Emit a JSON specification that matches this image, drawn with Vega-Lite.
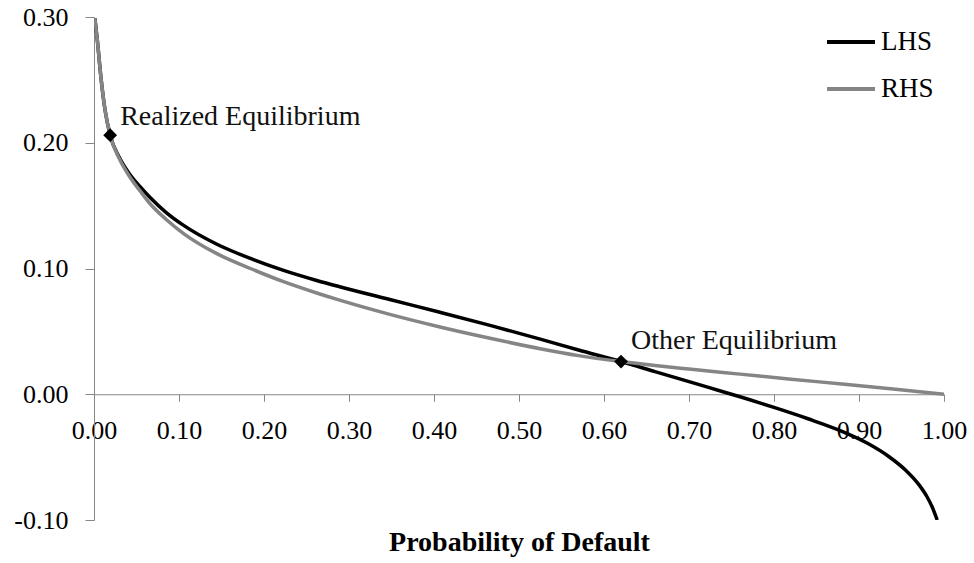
{
  "$schema": "https://vega.github.io/schema/vega-lite/v6.json",
  "width": 850,
  "height": 503,
  "autosize": {"type": "none"},
  "padding": {"left": 94, "top": 17, "right": 30, "bottom": 43},
  "background": "white",
  "config": {
    "view": {"stroke": null},
    "font": "Liberation Serif",
    "axis": {"labelFont": "Liberation Serif", "titleFont": "Liberation Serif", "grid": false},
    "legend": {"labelFont": "Liberation Serif"},
    "text": {"font": "Liberation Serif"}
  },
  "datasets": {
    "curves": [
      {"series": "LHS", "p": 0.001, "value": 0.299},
      {"series": "LHS", "p": 0.004, "value": 0.281},
      {"series": "LHS", "p": 0.008, "value": 0.253},
      {"series": "LHS", "p": 0.013, "value": 0.226},
      {"series": "LHS", "p": 0.019, "value": 0.206},
      {"series": "LHS", "p": 0.03, "value": 0.188},
      {"series": "LHS", "p": 0.042, "value": 0.175},
      {"series": "LHS", "p": 0.055, "value": 0.1645},
      {"series": "LHS", "p": 0.066, "value": 0.1565},
      {"series": "LHS", "p": 0.085, "value": 0.1445},
      {"series": "LHS", "p": 0.105, "value": 0.1345},
      {"series": "LHS", "p": 0.144, "value": 0.1195},
      {"series": "LHS", "p": 0.184, "value": 0.108},
      {"series": "LHS", "p": 0.223, "value": 0.0985},
      {"series": "LHS", "p": 0.262, "value": 0.0905},
      {"series": "LHS", "p": 0.289, "value": 0.0855},
      {"series": "LHS", "p": 0.348, "value": 0.0753},
      {"series": "LHS", "p": 0.407, "value": 0.0652},
      {"series": "LHS", "p": 0.466, "value": 0.0548},
      {"series": "LHS", "p": 0.525, "value": 0.0438},
      {"series": "LHS", "p": 0.57, "value": 0.0352},
      {"series": "LHS", "p": 0.62, "value": 0.026},
      {"series": "LHS", "p": 0.66, "value": 0.018},
      {"series": "LHS", "p": 0.7, "value": 0.01},
      {"series": "LHS", "p": 0.74, "value": 0.002},
      {"series": "LHS", "p": 0.76, "value": -0.002},
      {"series": "LHS", "p": 0.8, "value": -0.0105},
      {"series": "LHS", "p": 0.84, "value": -0.0195},
      {"series": "LHS", "p": 0.88, "value": -0.0295},
      {"series": "LHS", "p": 0.91, "value": -0.039},
      {"series": "LHS", "p": 0.935, "value": -0.0495},
      {"series": "LHS", "p": 0.955, "value": -0.0605},
      {"series": "LHS", "p": 0.97, "value": -0.0715},
      {"series": "LHS", "p": 0.98, "value": -0.0815},
      {"series": "LHS", "p": 0.986, "value": -0.0895},
      {"series": "LHS", "p": 0.992, "value": -0.1},
      {"series": "RHS", "p": 0.001, "value": 0.299},
      {"series": "RHS", "p": 0.004, "value": 0.281},
      {"series": "RHS", "p": 0.008, "value": 0.253},
      {"series": "RHS", "p": 0.013, "value": 0.226},
      {"series": "RHS", "p": 0.019, "value": 0.206},
      {"series": "RHS", "p": 0.03, "value": 0.187},
      {"series": "RHS", "p": 0.042, "value": 0.173},
      {"series": "RHS", "p": 0.055, "value": 0.161},
      {"series": "RHS", "p": 0.066, "value": 0.1515},
      {"series": "RHS", "p": 0.085, "value": 0.139},
      {"series": "RHS", "p": 0.105, "value": 0.128},
      {"series": "RHS", "p": 0.144, "value": 0.112},
      {"series": "RHS", "p": 0.184, "value": 0.1},
      {"series": "RHS", "p": 0.223, "value": 0.0895},
      {"series": "RHS", "p": 0.262, "value": 0.0805},
      {"series": "RHS", "p": 0.289, "value": 0.0748},
      {"series": "RHS", "p": 0.348, "value": 0.0635},
      {"series": "RHS", "p": 0.407, "value": 0.0535},
      {"series": "RHS", "p": 0.466, "value": 0.0445},
      {"series": "RHS", "p": 0.525, "value": 0.0362},
      {"series": "RHS", "p": 0.57, "value": 0.0307},
      {"series": "RHS", "p": 0.62, "value": 0.026},
      {"series": "RHS", "p": 0.66, "value": 0.0228},
      {"series": "RHS", "p": 0.7, "value": 0.02},
      {"series": "RHS", "p": 0.76, "value": 0.016},
      {"series": "RHS", "p": 0.82, "value": 0.012},
      {"series": "RHS", "p": 0.88, "value": 0.0081},
      {"series": "RHS", "p": 0.94, "value": 0.0041},
      {"series": "RHS", "p": 1.0, "value": 0.0}
    ],
    "equilibria": [
      {"name": "Realized Equilibrium", "p": 0.019, "value": 0.206},
      {"name": "Other Equilibrium", "p": 0.62, "value": 0.026}
    ]
  },
  "layer": [
    {
      "data": {"name": "curves"},
      "mark": {"type": "line", "strokeWidth": 3.5, "interpolate": "monotone", "clip": true},
      "encoding": {
        "x": {
          "field": "p", "type": "quantitative",
          "scale": {"domain": [0, 1], "nice": false, "zero": false},
          "axis": {
            "title": "Probability of Default",
            "titleFontSize": 28, "titleFontWeight": "bold", "titleColor": "#000000",
            "titlePadding": 85,
            "format": ".2f",
            "values": [0, 0.1, 0.2, 0.3, 0.4, 0.5, 0.6, 0.7, 0.8, 0.9, 1.0],
            "labelFontSize": 26, "labelColor": "#000000", "labelPadding": 16,
            "labelFlush": false, "labelOverlap": false,
            "tickSize": 7, "tickColor": "#868686", "domainColor": "#868686",
            "offset": -125.75
          }
        },
        "y": {
          "field": "value", "type": "quantitative",
          "scale": {"domain": [-0.1, 0.3], "nice": false, "zero": false},
          "axis": {
            "title": null,
            "format": ".2f",
            "labelExpr": "replace(datum.label, '−', '-')",
            "values": [-0.1, 0, 0.1, 0.2, 0.3],
            "labelFontSize": 26, "labelColor": "#000000", "labelPadding": 17,
            "labelFlush": false, "labelOverlap": false,
            "tickSize": 9, "tickColor": "#868686", "domainColor": "#868686"
          }
        },
        "color": {
          "field": "series", "type": "nominal",
          "scale": {"domain": ["LHS", "RHS"], "range": ["#000000", "#858585"]},
          "legend": {
            "title": null, "orient": "none", "legendX": 731, "legendY": -1,
            "symbolType": "stroke", "symbolSize": 2300, "symbolStrokeWidth": 4,
            "labelFontSize": 27, "labelColor": "#000000", "labelOffset": 4,
            "rowPadding": 8
          }
        }
      }
    },
    {
      "data": {"name": "equilibria"},
      "mark": {"type": "point", "shape": "diamond", "filled": true, "size": 190, "color": "#000000", "opacity": 1},
      "encoding": {
        "x": {"field": "p", "type": "quantitative"},
        "y": {"field": "value", "type": "quantitative"}
      }
    },
    {
      "data": {"name": "equilibria"},
      "transform": [{"filter": "datum.name == 'Realized Equilibrium'"}],
      "mark": {"type": "text", "align": "left", "baseline": "alphabetic", "dx": 10, "dy": -10, "fontSize": 28, "color": "#111111"},
      "encoding": {
        "x": {"field": "p", "type": "quantitative"},
        "y": {"field": "value", "type": "quantitative"},
        "text": {"field": "name"}
      }
    },
    {
      "data": {"name": "equilibria"},
      "transform": [{"filter": "datum.name == 'Other Equilibrium'"}],
      "mark": {"type": "text", "align": "left", "baseline": "alphabetic", "dx": 10, "dy": -13, "fontSize": 28, "color": "#111111"},
      "encoding": {
        "x": {"field": "p", "type": "quantitative"},
        "y": {"field": "value", "type": "quantitative"},
        "text": {"field": "name"}
      }
    }
  ]
}
